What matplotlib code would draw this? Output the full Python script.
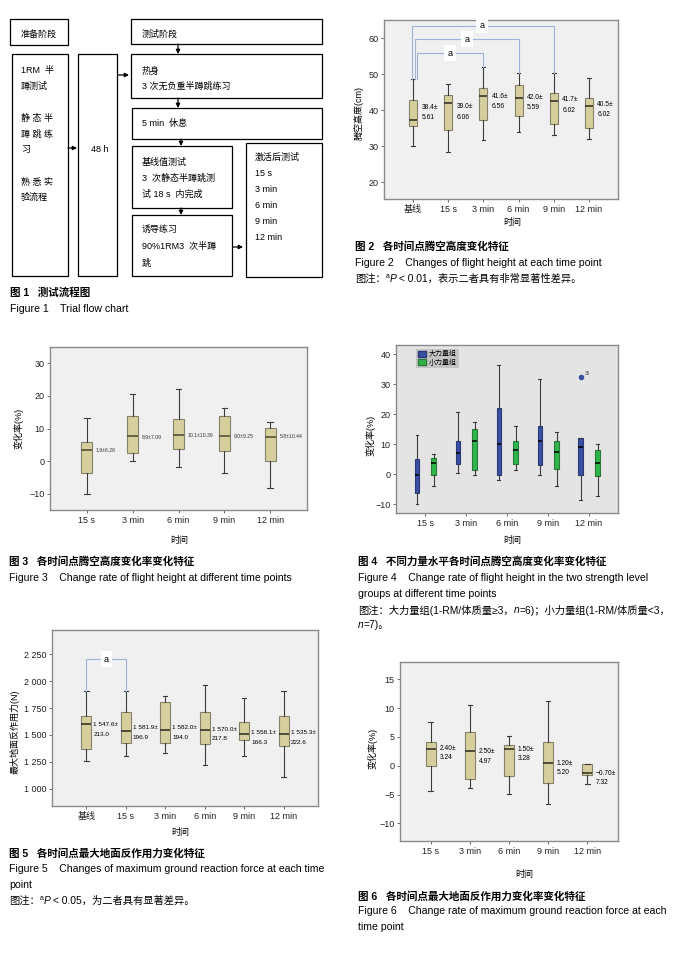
import matplotlib
matplotlib.use("Agg")
import matplotlib.pyplot as plt
from matplotlib.patches import Rectangle, Patch

plt.rcParams['font.family'] = ['Liberation Sans', 'Noto Sans CJK SC', 'DejaVu Sans']
plt.rcParams['axes.unicode_minus'] = True

# ---------------- data ----------------
fig2_labels = ['基线', '15 s', '3 min', '6 min', '9 min', '12 min']
fig2_whislo = [30.1, 28.3, 31.6, 34.0, 33.1, 32.0]
fig2_q1 = [35.6, 34.4, 37.1, 38.4, 36.0, 35.0]
fig2_med = [37.2, 42.0, 43.8, 43.3, 42.5, 41.0]
fig2_q3 = [42.8, 44.1, 46.0, 46.9, 44.7, 43.4]
fig2_whishi = [48.7, 47.2, 51.9, 50.4, 50.2, 49.0]
fig2_mean = ['38.4±', '39.0±', '41.6±', '42.0±', '41.7±', '40.5±']
fig2_sd = ['5.61', '6.06', '6.56', '5.59', '6.02', '6.02']
fig2_sig_pairs = [(0, 2), (0, 3), (0, 4)]

fig3_labels = ['15 s', '3 min', '6 min', '9 min', '12 min']
fig3_whislo = [-10.0, -0.1, -1.9, -3.8, -8.3]
fig3_q1 = [-3.8, 2.6, 3.6, 3.2, -0.1]
fig3_med = [3.5, 7.6, 7.9, 7.6, 7.4]
fig3_q3 = [5.75, 13.7, 12.8, 13.7, 10.1]
fig3_whishi = [13.1, 20.6, 22.0, 16.4, 11.9]
fig3_text = ['1.9±6.26', '8.9±7.09', '10.1±10.39', '9.0±9.25', '5.8±10.44']

fig4_labels = ['15 s', '3 min', '6 min', '9 min', '12 min']
fig4_groups = ['大力量组', '小力量组']
fig4_big_whislo = [-10.1, 0.4, -2.1, -0.2, -8.5]
fig4_big_q1 = [-6.3, 3.3, -0.2, 3.1, -0.2]
fig4_big_med = [-0.2, 7.0, 10.2, 10.9, 9.2]
fig4_big_q3 = [5.0, 11.1, 21.9, 16.2, 12.1]
fig4_big_whishi = [13.2, 20.6, 36.4, 31.6, 12.1]
fig4_big_fliers = [[], [], [], [], [32.5]]
fig4_small_whislo = [-3.9, -0.3, 1.4, -3.9, -7.3]
fig4_small_q1 = [-0.3, 1.3, 3.5, 1.8, -0.7]
fig4_small_med = [3.8, 11.2, 8.0, 7.4, 3.6]
fig4_small_q3 = [5.5, 14.9, 10.9, 11.2, 8.0]
fig4_small_whishi = [6.7, 17.5, 16.2, 13.9, 10.2]

fig5_labels = ['基线', '15 s', '3 min', '6 min', '9 min', '12 min']
fig5_whislo = [1255, 1299, 1327, 1224, 1305, 1106]
fig5_q1 = [1373, 1429, 1429, 1420, 1457, 1398]
fig5_med = [1597, 1532, 1547, 1547, 1507, 1513]
fig5_q3 = [1672, 1715, 1809, 1715, 1622, 1672]
fig5_whishi = [1911, 1911, 1861, 1961, 1846, 1911]
fig5_mean = ['1 547.6±', '1 581.9±', '1 582.0±', '1 570.0±', '1 558.1±', '1 535.3±']
fig5_sd = ['213.0', '196.9', '194.0', '217.8', '166.3', '222.6']
fig5_yticks = [1000, 1250, 1500, 1750, 2000, 2250]
fig5_yticklabels = ['1 000', '1 250', '1 500', '1 750', '2 000', '2 250']
fig5_sig_pairs = [(0, 1)]

fig6_labels = ['15 s', '3 min', '6 min', '9 min', '12 min']
fig6_whislo = [-4.34, -3.94, -4.98, -6.65, -3.25]
fig6_q1 = [-0.13, -2.38, -1.74, -3.07, -1.69]
fig6_med = [2.93, 2.59, 2.93, 0.51, -1.34]
fig6_q3 = [4.15, 5.93, 3.63, 4.15, 0.22]
fig6_whishi = [7.67, 10.6, 5.18, 11.3, 0.22]
fig6_mean = ['2.40±', '2.50±', '1.50±', '1.20±', '−0.70±']
fig6_sd = ['3.24', '4.97', '3.28', '5.20', '7.32']

# ---------------- layout helpers ----------------
W, H = 696, 959
fig = plt.figure(figsize=(W / 100, H / 100), dpi=100)
fig.patch.set_facecolor('white')

BOX_FACE = '#d6cf9d'
BOX_EDGE = '#85826a'
MED_C = '#2a281c'
WHISK_C = '#3c3c3c'
BG = '#f0f0f0'
SPINE_C = '#8a8a8a'
BRACKET_C = '#9db3d9'
CAP = 7.6
NOTE = 7.4


def axes_px(l, t, r, b):
    return fig.add_axes([l / W, 1 - b / H, (r - l) / W, (b - t) / H])


def ftxt(x, y, s, size=6.5, **kw):
    kw.setdefault('va', 'center')
    kw.setdefault('ha', 'left')
    return fig.text(x / W, 1 - y / H, s, fontsize=size, **kw)


def rich(x, y, pieces, size=NOTE):
    """Place text pieces one after another on a line (pixel coords)."""
    renderer = fig.canvas.get_renderer()
    cur = x
    for s, opts in pieces:
        opts = dict(opts)
        sz = opts.pop('size', size)
        dy = opts.pop('dy', 0)
        t = ftxt(cur, y - dy, s, size=sz, **opts)
        cur += t.get_window_extent(renderer).width


def style_axes(ax, bg=BG):
    ax.set_facecolor(bg)
    for sp in ax.spines.values():
        sp.set_color(SPINE_C)
        sp.set_linewidth(1.0)
    ax.tick_params(axis='both', length=2.5, width=0.6, color='#555555',
                   labelsize=6.5, pad=1.5, labelcolor='#222222')


def boxes(ax, pos, lo, q1, med, q3, hi, width, face=BOX_FACE, edge=BOX_EDGE,
          medc=MED_C, fliers=None, capw=0.45):
    stats = []
    for i in range(len(pos)):
        stats.append(dict(whislo=lo[i], q1=q1[i], med=med[i], q3=q3[i],
                          whishi=hi[i], fliers=(fliers[i] if fliers else [])))
    ax.bxp(stats, positions=pos, widths=width, patch_artist=True,
           showfliers=fliers is not None, capwidths=width * capw,
           boxprops=dict(facecolor=face, edgecolor=edge, linewidth=0.8),
           medianprops=dict(color=medc, linewidth=1.1),
           whiskerprops=dict(color=WHISK_C, linewidth=0.8),
           capprops=dict(color=WHISK_C, linewidth=0.8),
           flierprops=dict(marker='o', markersize=3, markerfacecolor=face,
                           markeredgecolor=face))


def bracket(ax, x0, x1, y0, y1, level, label, lx, dx0=0.0):
    ax.plot([x0 + dx0, x0 + dx0, x1, x1], [y0, level, level, y1],
            color=BRACKET_C, lw=0.8, clip_on=False, zorder=3)
    ax.text(lx, level, label, ha='center', va='center', fontsize=6.5,
            zorder=4, bbox=dict(facecolor='white', edgecolor='none',
                                boxstyle='square,pad=0.35'))

# ---------------- Figure 1 : flowchart ----------------
fc = fig.add_axes([0, 0, 1, 1])
fc.set_xlim(0, W)
fc.set_ylim(H, 0)
fc.axis('off')
fc.patch.set_alpha(0)
for (l, t, r, b) in [(10, 19, 68, 45), (12, 54, 68, 276), (78, 54, 117, 276),
                     (131, 19, 322, 44), (131, 54, 322, 98), (132, 108, 322, 139),
                     (132, 146, 232, 208), (132, 215, 232, 276), (246, 143, 322, 277)]:
    fc.add_patch(Rectangle((l, t), r - l, b - t, fill=False, lw=0.9, ec='black'))
for (xa, ya, xb, yb) in [(178, 44, 178, 54), (178, 98, 178, 108), (181, 139, 181, 146),
                         (181, 208, 181, 215), (68, 148, 77, 148), (118, 75, 129, 75),
                         (233, 247, 243, 247)]:
    fc.annotate('', xy=(xb, yb), xytext=(xa, ya),
                arrowprops=dict(arrowstyle='-|>', color='black', lw=0.9,
                                mutation_scale=6, shrinkA=0, shrinkB=0))

ftxt(21, 34, '准备阶段')
for y, s in [(70, '1RM  半'), (86, '蹲测试'), (118, '静 态 半'), (134, '蹲 跳 练'),
             (149, '习'), (182, '熟 悉 实'), (197, '验流程')]:
    ftxt(21, y, s)
ftxt(91, 149, '48 h')
ftxt(142, 34, '测试阶段')
ftxt(142, 71, '热身')
ftxt(142, 86, '3 次无负重半蹲跳练习')
ftxt(142, 123, '5 min  休息')
ftxt(142, 162, '基线值测试')
ftxt(142, 178, '3  次静态半蹲跳测')
ftxt(142, 194, '试 18 s  内完成')
ftxt(142, 229, '诱导练习')
ftxt(142, 247, '90%1RM3  次半蹲')
ftxt(142, 263, '跳')
ftxt(255, 157, '激活后测试')
for y, s in [(173, '15 s'), (189, '3 min'), (206, '6 min'), (222, '9 min'), (237, '12 min')]:
    ftxt(255, y, s)
ftxt(10, 293, '图 1   测试流程图', size=CAP, fontweight='bold')
ftxt(10, 309, 'Figure 1    Trial flow chart', size=CAP)

# ---------------- Figure 2 ----------------
ax2 = axes_px(384, 20, 618, 199)
style_axes(ax2)
pos2 = list(range(len(fig2_labels)))
boxes(ax2, pos2, fig2_whislo, fig2_q1, fig2_med, fig2_q3, fig2_whishi, 0.23)
ax2.set_xlim(-0.83, 5.83)
ax2.set_ylim(15.3, 65)
ax2.set_yticks([20, 30, 40, 50, 60])
ax2.set_xticks(pos2)
ax2.set_xticklabels(fig2_labels)
lab2_y1 = [40.65, 40.93, 43.72, 43.53, 42.79, 41.58]
lab2_y2 = [37.87, 37.87, 40.93, 40.65, 40.0, 38.79]
for i in pos2:
    ax2.text(i + 0.24, lab2_y1[i], fig2_mean[i], fontsize=4.8, va='center')
    ax2.text(i + 0.24, lab2_y2[i], fig2_sd[i], fontsize=4.8, va='center')
levels2 = [55.8, 59.7, 63.4]
lx2 = [1.05, 1.53, 1.96]
dx2 = [0.11, 0.04, -0.04]
for k, (a, b) in enumerate(fig2_sig_pairs):
    bracket(ax2, a, b, fig2_whishi[a], fig2_whishi[b], levels2[k], 'a', lx2[k], dx2[k])
ftxt(359, 113, '腾空高度(cm)', rotation=90, ha='center')
ftxt(512, 223, '时间', ha='center')
ftxt(355, 247, '图 2   各时间点腾空高度变化特征', size=CAP, fontweight='bold')
ftxt(355, 263, 'Figure 2    Changes of flight height at each time point', size=CAP)
rich(355, 279, [('图注：', {}), ('a', {'size': 5, 'dy': 2.5}), ('P', {'style': 'italic'}),
                (' < 0.01，表示二者具有非常显著性差异。', {})])

# ---------------- Figure 3 ----------------
ax3 = axes_px(50, 347, 307, 510)
style_axes(ax3)
pos3 = list(range(len(fig3_labels)))
boxes(ax3, pos3, fig3_whislo, fig3_q1, fig3_med, fig3_q3, fig3_whishi, 0.25,
      medc='#4a4630', capw=0.5)
ax3.set_xlim(-0.8, 4.8)
ax3.set_ylim(-15, 35)
ax3.set_yticks([-10, 0, 10, 20, 30])
ax3.set_xticks(pos3)
ax3.set_xticklabels(fig3_labels)
lab3_y = [3.4, 7.3, 7.8, 7.5, 7.4]
for i in pos3:
    ax3.text(i + 0.2, lab3_y[i], fig3_text[i], fontsize=3.7, va='center', color='#333333')
ftxt(18, 428, '变化率(%)', rotation=90, ha='center')
ftxt(179, 541, '时间', ha='center')
ftxt(9, 562, '图 3   各时间点腾空高度变化率变化特征', size=CAP, fontweight='bold')
ftxt(9, 578, 'Figure 3    Change rate of flight height at different time points', size=CAP)

# ---------------- Figure 4 ----------------
ax4 = axes_px(396, 345, 618, 513)
style_axes(ax4, bg='#e4e4e4')
pos4 = list(range(len(fig4_labels)))
BLUE = '#3a50a2'
GREEN = '#2fb54a'
boxes(ax4, [p - 0.2 for p in pos4], fig4_big_whislo, fig4_big_q1, fig4_big_med,
      fig4_big_q3, fig4_big_whishi, 0.11, face=BLUE, edge='#2a3a78', medc='black',
      fliers=fig4_big_fliers, capw=0.6)
boxes(ax4, [p + 0.21 for p in pos4], fig4_small_whislo, fig4_small_q1, fig4_small_med,
      fig4_small_q3, fig4_small_whishi, 0.12, face=GREEN, edge='#2a7a3a', medc='black',
      capw=0.6)
ax4.text(4 - 0.2 + 0.1, 33.6, '35', fontsize=3.5, color='#555555', va='center')
ax4.set_xlim(-0.71, 4.71)
ax4.set_ylim(-13, 43.1)
ax4.set_yticks([-10, 0, 10, 20, 30, 40])
ax4.set_xticks(pos4)
ax4.set_xticklabels(fig4_labels)
leg = ax4.legend(handles=[Patch(facecolor=BLUE, edgecolor='#2a3a78', label=fig4_groups[0]),
                          Patch(facecolor=GREEN, edgecolor='#2a7a3a', label=fig4_groups[1])],
                 loc='upper left', bbox_to_anchor=(0.09, 0.975), fontsize=5,
                 frameon=True, fancybox=False, borderpad=0.25, labelspacing=0.15,
                 handlelength=1.2, handleheight=0.9, handletextpad=0.4, borderaxespad=0)
leg.get_frame().set_facecolor('#c4c4c4')
leg.get_frame().set_edgecolor('none')
leg.get_frame().set_alpha(1)
ftxt(370, 435, '变化率(%)', rotation=90, ha='center')
ftxt(512, 541, '时间', ha='center')
ftxt(358, 562, '图 4   不同力量水平各时间点腾空高度变化率变化特征', size=CAP, fontweight='bold')
ftxt(358, 578, 'Figure 4    Change rate of flight height in the two strength level', size=CAP)
ftxt(358, 594, 'groups at different time points', size=CAP)
rich(358, 610, [('图注：大力量组(1-RM/体质量≥3，', {}), ('n', {'style': 'italic'}),
                ('=6)；小力量组(1-RM/体质量<3，', {})])
rich(358, 625, [('n', {'style': 'italic'}), ('=7)。', {})])

# ---------------- Figure 5 ----------------
ax5 = axes_px(52, 630, 318, 806)
style_axes(ax5)
pos5 = list(range(len(fig5_labels)))
boxes(ax5, pos5, fig5_whislo, fig5_q1, fig5_med, fig5_q3, fig5_whishi, 0.25, capw=0.45)
ax5.set_xlim(-0.87, 5.87)
ax5.set_ylim(838, 2477)
ax5.set_yticks(fig5_yticks)
ax5.set_yticklabels(fig5_yticklabels)
ax5.set_xticks(pos5)
ax5.set_xticklabels(fig5_labels)
lab5_y1 = [1600, 1569, 1569, 1550, 1519, 1519]
lab5_y2 = [1507, 1479, 1479, 1463, 1432, 1432]
for i in pos5:
    ax5.text(i + 0.18, lab5_y1[i], fig5_mean[i], fontsize=4.6, va='center')
    ax5.text(i + 0.18, lab5_y2[i], fig5_sd[i], fontsize=4.6, va='center')
for (a, b) in fig5_sig_pairs:
    bracket(ax5, a, b, fig5_whishi[a], fig5_whishi[b], 2206, 'a', 0.51)
ftxt(15, 732, '最大地面反作用力(N)', rotation=90, ha='center')
ftxt(180, 833, '时间', ha='center')
ftxt(9, 853, '图 5   各时间点最大地面反作用力变化特征', size=CAP, fontweight='bold')
ftxt(9, 869, 'Figure 5    Changes of maximum ground reaction force at each time', size=CAP)
ftxt(9, 885, 'point', size=CAP)
rich(9, 901, [('图注：', {}), ('a', {'size': 5, 'dy': 2.5}), ('P', {'style': 'italic'}),
              (' < 0.05，为二者具有显著差异。', {})])

# ---------------- Figure 6 ----------------
ax6 = axes_px(400, 662, 618, 841)
style_axes(ax6)
pos6 = list(range(len(fig6_labels)))
boxes(ax6, pos6, fig6_whislo, fig6_q1, fig6_med, fig6_q3, fig6_whishi, 0.26, capw=0.45)
ax6.set_xlim(-0.785, 4.785)
ax6.set_ylim(-13.07, 18)
ax6.set_yticks([-10, -5, 0, 5, 10, 15])
ax6.set_xticks(pos6)
ax6.set_xticklabels(fig6_labels)
lab6_y1 = [2.99, 2.41, 2.87, 0.39, -1.34]
lab6_y2 = [1.43, 0.68, 1.26, -1.17, -2.96]
for i in pos6:
    ax6.text(i + 0.22, lab6_y1[i], fig6_mean[i], fontsize=4.8, va='center')
    ax6.text(i + 0.22, lab6_y2[i], fig6_sd[i], fontsize=4.8, va='center')
ftxt(372, 748, '变化率(%)', rotation=90, ha='center')
ftxt(524, 874, '时间', ha='center')
ftxt(358, 896, '图 6   各时间点最大地面反作用力变化率变化特征', size=CAP, fontweight='bold')
ftxt(358, 911, 'Figure 6    Change rate of maximum ground reaction force at each', size=CAP)
ftxt(358, 927, 'time point', size=CAP)

fig.savefig('out.png', dpi=100, facecolor='white')
